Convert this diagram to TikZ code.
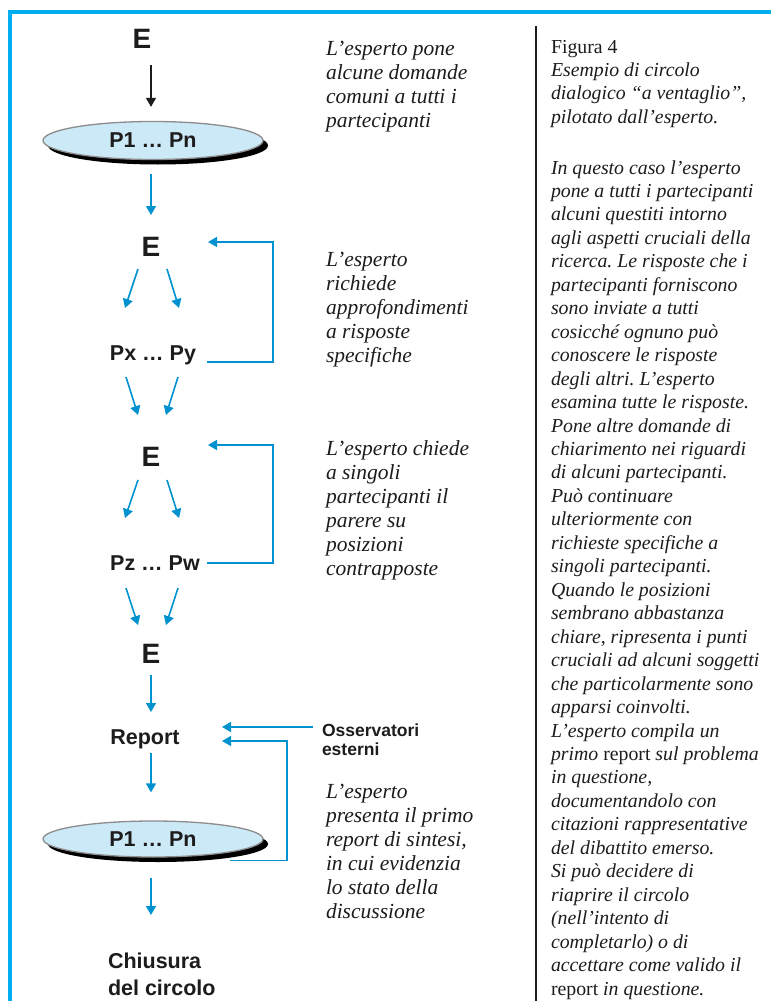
\documentclass[tikz,border=0pt]{standalone}
\usepackage{fontspec}
\setmainfont{Liberation Serif}
\newfontfamily\labfont{Liberation Sans}
\usetikzlibrary{arrows.meta,shapes.geometric,calc,shadows}
\definecolor{framecyan}{RGB}{0,174,239}
\definecolor{flowblue}{RGB}{0,146,207}
\definecolor{discfill}{RGB}{204,233,248}
\definecolor{discline}{RGB}{140,140,140}
\definecolor{ink}{RGB}{30,27,28}
\frenchspacing
\newcommand{\colbox}[2]{\parbox[t]{#1}{\raggedright\frenchspacing #2}}
\begin{document}
\begin{tikzpicture}[x=1pt,y=-1pt,
  lbl/.style={inner sep=0pt, outer sep=0pt, anchor=base, text=ink,
    font=\labfont\bfseries\fontsize{21.5}{27}\selectfont},
  bigE/.style={lbl, font=\labfont\bfseries\fontsize{28}{30}\selectfont},
  small/.style={lbl, anchor=base west, font=\labfont\bfseries\fontsize{17.5}{19}\selectfont},
  disc/.style={ellipse, minimum width=220pt, inner sep=0pt, fill=discfill,
    draw=discline, line width=1.3pt, text=ink,
    font=\labfont\bfseries\fontsize{21.5}{27}\selectfont,
    drop shadow={shadow xshift=5pt, shadow yshift=-5pt, fill=black, opacity=1}},
  note/.style={inner sep=0pt, outer sep=0pt, anchor=base west, text=ink,
    font=\itshape\fontsize{21.5}{24}\selectfont},
  side/.style={inner sep=0pt, outer sep=0pt, anchor=base west, text=ink,
    font=\fontsize{19.8}{23.46}\selectfont},
  arr/.style={draw=flowblue, line width=1.6pt, -{Triangle[length=9pt,width=10pt]}},
  blk/.style={draw=ink, line width=1.4pt, -{Triangle[length=9pt,width=10pt]}}]
\useasboundingbox (0,0) rectangle (771,1001);

% frame and column rule
\draw[framecyan, line width=3.5pt] (771,12) -- (10,12) -- (10,1001);
\draw[ink, line width=2.5pt] (536,26) -- (536,1001);

% flow nodes
\node[bigE] (E1) at (142,48) {E};
\node[disc, minimum height=38pt] (P1) at (153,140.5) {P1 … Pn};
\node[bigE] (E2) at (151,256) {E};
\node[lbl] (Px) at (153,360) {Px … Py};
\node[bigE] (E3) at (151,466) {E};
\node[lbl] (Pz) at (155,570) {Pz … Pw};
\node[bigE] (E4) at (151,663) {E};
\node[lbl] (Report) at (145,744) {Report};
\node[small] (Oss) at (322,736) {\colbox{120pt}{Osservatori\\esterni}};
\node[disc, minimum height=36pt] (P1b) at (153,839) {P1 … Pn};
\node[lbl, anchor=base west] (Chiusura) at (108,968) {\colbox{150pt}{Chiusura\\del circolo}};

% connectors
\draw[blk] ($(E1.base)+(9,17)$) -- ($(P1.north)+(-2,-14)$);
\draw[arr] ($(P1.south)+(-2,14)$) -- ($(E2.base)+(0,-41)$);
\draw[arr] ($(E2.base)+(-13,13)$) -- ($(Px.base)+(-28,-52)$);
\draw[arr] ($(E2.base)+(16,13)$) -- ($(Px.base)+(26,-52)$);
\draw[arr] ($(Px.base)+(-27,17)$) -- ($(E3.base)+(-13,-51)$);
\draw[arr] ($(Px.base)+(25,17)$) -- ($(E3.base)+(15,-51)$);
\draw[arr] ($(E3.base)+(-13,14)$) -- ($(Pz.base)+(-30,-52)$);
\draw[arr] ($(E3.base)+(16,14)$) -- ($(Pz.base)+(24,-52)$);
\draw[arr] ($(Pz.base)+(-29,18)$) -- ($(E4.base)+(-13,-38)$);
\draw[arr] ($(Pz.base)+(23,18)$) -- ($(E4.base)+(15,-38)$);
\draw[arr] ($(E4.base)+(0,12)$) -- ($(Report.base)+(6,-32)$);
\draw[arr] ($(Report.base)+(6,9)$) -- ($(P1b.north)+(-2,-28)$);
\draw[arr] ($(P1b.south)+(-2,20)$) -- ($(Chiusura.base west)+(43,-53)$);

% feedback loops
\draw[arr] ($(Px.base)+(54,2)$) -- ($(Px.base)+(120,2)$) |- ($(E2.base)+(57,-14)$);
\draw[arr] ($(Pz.base)+(52,-7)$) -- ($(Pz.base)+(118,-7)$) |- ($(E3.base)+(57,-21)$);
\draw[arr] ($(Oss.base west)+(-9,-9)$) -- ($(Report.base)+(77,-17)$);
\draw[arr] ($(P1b.south)+(77,3)$) -- ($(P1b.south)+(134,3)$) |- ($(Report.base)+(77,-3)$);

% step descriptions
\node[note] (n1) at (326,55) {\colbox{205pt}{L’esperto pone\\alcune domande\\comuni a tutti i\\partecipanti}};
\node[note] (n2) at (326,266) {\colbox{205pt}{L’esperto\\richiede\\approfondimenti\\a risposte\\specifiche}};
\node[note] (n3) at (326,455) {\colbox{205pt}{L’esperto chiede\\a singoli\\partecipanti il\\parere su\\posizioni\\contrapposte}};
\node[note] (n4) at (326,798) {\colbox{205pt}{L’esperto\\presenta il primo\\report di sintesi,\\in cui evidenzia\\lo stato della\\discussione}};

% caption column
\node[side] (cap) at (551,53) {\colbox{220pt}{Figura 4\\\itshape Esempio di circolo\\dialogico “a ventaglio”,\\pilotato dall’esperto.}};
\node[side] (body) at (551,174) {\colbox{220pt}{\itshape In questo caso l’esperto\\pone a tutti i partecipanti\\alcuni questiti intorno\\agli aspetti cruciali della\\ricerca. Le risposte che i\\partecipanti forniscono\\sono inviate a tutti\\cosicché ognuno può\\conoscere le risposte\\degli altri. L’esperto\\esamina tutte le risposte.\\Pone altre domande di\\chiarimento nei riguardi\\di alcuni partecipanti.\\Può continuare\\ulteriormente con\\richieste specifiche a\\singoli partecipanti.\\Quando le posizioni\\sembrano abbastanza\\chiare, ripresenta i punti\\cruciali ad alcuni soggetti\\che particolarmente sono\\apparsi coinvolti.\\L’esperto compila un\\primo \textup{report} sul problema\\in questione,\\documentandolo con\\citazioni rappresentative\\del dibattito emerso.\\Si può decidere di\\riaprire il circolo\\(nell’intento di\\completarlo) o di\\accettare come valido il\\\textup{report} in questione.}};
\end{tikzpicture}
\end{document}
